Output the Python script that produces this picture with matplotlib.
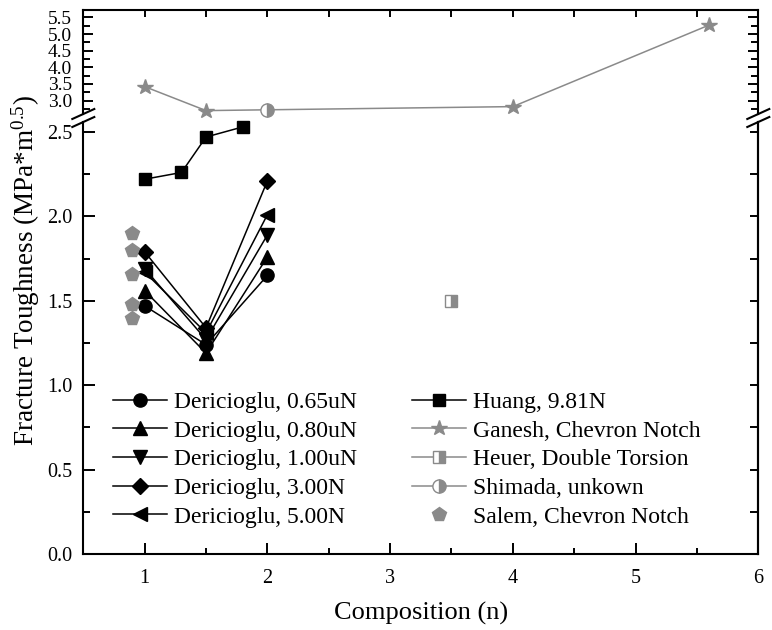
import matplotlib
matplotlib.use("Agg")
import matplotlib.pyplot as plt
from matplotlib.ticker import MultipleLocator, NullLocator, FormatStrFormatter
from matplotlib.lines import Line2D

plt.rcParams['font.family'] = ['Liberation Serif', 'DejaVu Serif']
plt.rcParams['mathtext.fontset'] = 'custom'
plt.rcParams['mathtext.rm'] = 'Liberation Serif'
plt.rcParams['mathtext.it'] = 'Liberation Serif:italic'

# ---------------- data ----------------
x_der = [1.0, 1.5, 2.0]
der_065 = [1.47, 1.24, 1.65]
der_080 = [1.56, 1.19, 1.76]
der_100 = [1.69, 1.27, 1.89]
der_300 = [1.79, 1.34, 2.21]
der_500 = [1.67, 1.31, 2.01]

x_huang = [1.0, 1.3, 1.5, 1.8]
y_huang = [2.22, 2.26, 2.47, 2.53]

x_ganesh = [1.0, 1.5, 4.0, 5.6]
y_ganesh = [3.42, 2.70, 2.82, 5.27]

x_heuer = [3.5]
y_heuer = [1.50]

x_shimada = [2.0]
y_shimada = [2.72]

x_salem = [0.9, 0.9, 0.9, 0.9, 0.9]
y_salem = [1.90, 1.80, 1.66, 1.48, 1.40]

der_labels = ["Dericioglu, 0.65uN", "Dericioglu, 0.80uN", "Dericioglu, 1.00uN",
              "Dericioglu, 3.00N", "Dericioglu, 5.00N"]
other_labels = ["Huang, 9.81N", "Ganesh, Chevron Notch", "Heuer, Double Torsion",
                "Shimada, unkown", "Salem, Chevron Notch"]
xticks = [1, 2, 3, 4, 5, 6]

# ---------------- figure ----------------
W, H = 772, 630
fig = plt.figure(figsize=(W / 100, H / 100), dpi=100)

def fx(px):
    return px / W

def fy(py):
    return (H - py) / H

L, R = 83.3, 758.3
bot, low_top, up_bot, top = 554, 122, 114, 10
ax = fig.add_axes([fx(L), fy(bot), fx(R) - fx(L), fy(low_top) - fy(bot)])
ax2 = fig.add_axes([fx(L), fy(up_bot), fx(R) - fx(L), fy(top) - fy(up_bot)], sharex=ax)

ax.set_xlim(0.5, 6.0)
ax.set_ylim(0.0, 2.559)
ax2.set_ylim(2.598, 5.721)

grey = '#8a8a8a'
ms = 9.5
lw = 1.1

handles = []
for yv, mk, lab in zip([der_065, der_080, der_100, der_300, der_500],
                       ['o', '^', 'v', 'D', '<'], der_labels):
    msz = ms - 1.5 if mk == 'D' else ms
    h, = ax.plot(x_der, yv, color='black', marker=mk, ms=msz, lw=lw, label=lab,
                 clip_on=False, zorder=3)
    handles.append(h)

h_huang, = ax.plot(x_huang, y_huang, color='black', marker='s', ms=ms - 1, lw=lw,
                   label=other_labels[0], clip_on=False, zorder=3)
h_ganesh, = ax2.plot(x_ganesh, y_ganesh, color=grey, marker='*', ms=ms + 2, lw=lw,
                     label=other_labels[1], clip_on=False, zorder=3)
h_heuer, = ax.plot(x_heuer, y_heuer, color=grey, marker='s', ms=ms - 1.5, lw=lw,
                   fillstyle='right', markerfacecolor=grey, markerfacecoloralt='white',
                   markeredgecolor=grey, label=other_labels[2], clip_on=False, zorder=3)
h_shimada, = ax2.plot(x_shimada, y_shimada, color=grey, marker='o', ms=ms, lw=lw,
                      fillstyle='right', markerfacecolor=grey, markerfacecoloralt='white',
                      markeredgecolor=grey, label=other_labels[3], clip_on=False, zorder=3)
h_salem, = ax.plot(x_salem, y_salem, color=grey, marker='p', ms=ms + 0.5, lw=0,
                   linestyle='none', label=other_labels[4], clip_on=False, zorder=3)
handles += [h_huang, h_ganesh, h_heuer, h_shimada, h_salem]

# ---------------- spines & ticks ----------------
spw = 1.5
for a in (ax, ax2):
    for s in a.spines.values():
        s.set_linewidth(spw)
ax.spines['top'].set_visible(False)
ax2.spines['bottom'].set_visible(False)

ax.xaxis.set_major_locator(MultipleLocator(1))
ax.xaxis.set_minor_locator(MultipleLocator(0.5))
ax.set_xticks(xticks)
ax.yaxis.set_major_locator(MultipleLocator(0.5))
ax.yaxis.set_minor_locator(MultipleLocator(0.25))
ax.yaxis.set_major_formatter(FormatStrFormatter('%.1f'))
ax.tick_params(axis='x', which='both', direction='in', top=False, bottom=True,
               labelsize=14.5, pad=11)
ax.tick_params(axis='x', which='major', length=8, width=1.4)
ax.tick_params(axis='x', which='minor', length=4, width=1.4)
ax.tick_params(axis='y', which='both', direction='in', left=True, right=False,
               labelsize=14.5, pad=8)
ax.tick_params(axis='y', which='major', length=8.5, width=1.4)
ax.tick_params(axis='y', which='minor', length=5, width=1.4)

sec = ax.secondary_yaxis('right')
sec.yaxis.set_major_locator(MultipleLocator(0.25))
sec.yaxis.set_minor_locator(NullLocator())
sec.tick_params(direction='in', length=6, width=1.4, labelright=False)
sec.spines['right'].set_linewidth(spw)

ax2.yaxis.set_major_locator(MultipleLocator(0.5))
ax2.yaxis.set_minor_locator(MultipleLocator(0.25))
ax2.yaxis.set_major_formatter(FormatStrFormatter('%.1f'))
ax2.tick_params(axis='x', which='both', direction='in', top=True, bottom=False,
                labelbottom=False, labeltop=False)
ax2.tick_params(axis='x', which='major', length=5, width=1.4)
ax2.tick_params(axis='x', which='minor', length=5, width=1.4)
ax2.tick_params(axis='y', which='both', direction='in', left=True, right=True,
                labelsize=14, pad=8)
ax2.tick_params(axis='y', which='major', length=7, width=1.4)
ax2.tick_params(axis='y', which='minor', length=5, width=1.4)

# ---------------- break marks ----------------
for cx in (L, R):
    for cy in (114, 122):
        x0, x1 = cx - 11, cx + 11
        y0, y1 = cy + 5, cy - 5
        fig.add_artist(Line2D([fx(x0), fx(x1)], [fy(y0), fy(y1)],
                              transform=fig.transFigure, color='black', lw=1.5))

# ---------------- labels ----------------
ax.set_xlabel('Composition (n)', fontsize=19, labelpad=10)
fig.text(fx(26), fy(271), r'Fracture Toughness (MPa*m$^{\mathregular{0.5}}$)',
         rotation=90, ha='center', va='center', fontsize=19.5)

# ---------------- legend ----------------
leg = ax.legend(handles=handles, ncol=2, loc='upper left',
                bbox_to_anchor=(0.044, 0.376), frameon=False, fontsize=17,
                handlelength=2.3, handletextpad=0.3, columnspacing=2.3,
                labelspacing=0.3, borderpad=0, borderaxespad=0)
leg.set_zorder(5)

fig.savefig('out.png', dpi=100)
